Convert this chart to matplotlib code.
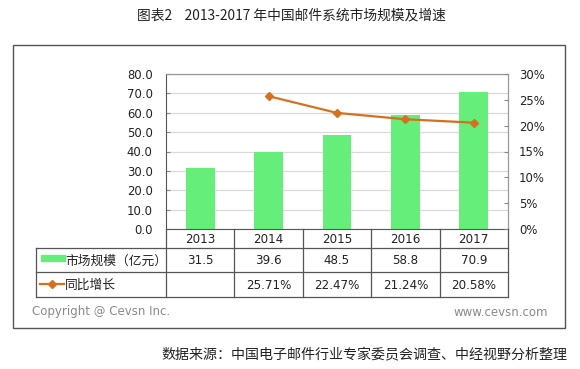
import matplotlib
matplotlib.use("Agg")
import matplotlib.pyplot as plt
from matplotlib.lines import Line2D
from matplotlib.patches import Rectangle
from matplotlib.ticker import FuncFormatter, MultipleLocator

plt.rcParams['font.family'] = ['DejaVu Sans', 'Noto Sans CJK SC']

years = ['2013', '2014', '2015', '2016', '2017']
market = [31.5, 39.6, 48.5, 58.8, 70.9]
growth = [None, 25.71, 22.47, 21.24, 20.58]
market_labels = ['31.5', '39.6', '48.5', '58.8', '70.9']
growth_labels = ['', '25.71%', '22.47%', '21.24%', '20.58%']
series_names = ['市场规模（亿元）', '同比增长']
title = '图表2    2013-2017 年中国邮件系统市场规模及增速'
source = '数据来源：中国电子邮件行业专家委员会调查、中经视野分析整理'

W, H = 580, 369
fig = plt.figure(figsize=(W / 100, H / 100), dpi=100)

def fx(x):
    return x / W

def fy(y):
    return 1 - y / H

BAR_C = '#66EE7A'
LINE_C = '#D4711F'
GRID_C = '#DADADA'
FRAME_C = '#555555'
TXT = '#222222'

pl, pr, pt, pb = 166, 508, 74, 229
ax = fig.add_axes([fx(pl), fy(pb), fx(pr - pl), (pb - pt) / H])
x = list(range(len(years)))
ax.bar(x, market, width=0.42, color=BAR_C, zorder=2)
ax.set_xlim(-0.5, len(years) - 0.5)
ax.set_ylim(0, 80)
ax.yaxis.set_major_locator(MultipleLocator(10))
ax.yaxis.set_major_formatter(FuncFormatter(lambda v, p: f'{v:.1f}'))
ax.grid(axis='y', color=GRID_C, lw=0.9, zorder=0)
ax.set_xticks([])
ax.tick_params(axis='y', length=3, direction='in', pad=9.5, labelsize=8.4, colors='#888888', labelcolor=TXT)
for s in ['top', 'right']:
    ax.spines[s].set_color('#999999')
    ax.spines[s].set_linewidth(0.9)
ax.spines['left'].set_color(FRAME_C)
ax.spines['bottom'].set_color(FRAME_C)

ax2 = ax.twinx()
gx = [i for i, g in zip(x, growth) if g is not None]
gv = [g for g in growth if g is not None]
ax2.plot(gx, gv, color=LINE_C, lw=1.6, marker='D', ms=4.5, mfc=LINE_C, mec=LINE_C, zorder=3)
ax2.set_ylim(0, 30)
ax2.yaxis.set_major_locator(MultipleLocator(5))
ax2.yaxis.set_major_formatter(FuncFormatter(lambda v, p: f'{v:.0f}%'))
ax2.tick_params(axis='y', length=3, direction='in', pad=8, labelsize=8.4, colors='#888888', labelcolor=TXT)
for s in ax2.spines.values():
    s.set_visible(False)

# Table
def hline(y, x0, x1, c=FRAME_C, lw=0.9):
    fig.add_artist(Line2D([fx(x0), fx(x1)], [fy(y), fy(y)], color=c, lw=lw))

def vline(x_, y0, y1, c=FRAME_C, lw=0.9):
    fig.add_artist(Line2D([fx(x_), fx(x_)], [fy(y0), fy(y1)], color=c, lw=lw))

tl = 36
r0, r1, r2, r3 = 229, 248, 272, 297
cw = (pr - pl) / len(years)
hline(r1, tl, pr)
hline(r2, tl, pr)
hline(r3, tl, pr)
vline(tl, r1, r3)
for k in range(len(years) + 1):
    vline(pl + k * cw, r0, r3)
for k, yr in enumerate(years):
    cx = pl + (k + 0.5) * cw
    fig.text(fx(cx), fy((r0 + r1) / 2 + 1), yr, ha='center', va='center', fontsize=8.6, color=TXT)
    fig.text(fx(cx), fy((r1 + r2) / 2 + 1), market_labels[k], ha='center', va='center', fontsize=8.6, color=TXT)
    fig.text(fx(cx), fy((r2 + r3) / 2 + 1), growth_labels[k], ha='center', va='center', fontsize=8.6, color=TXT)

# legend keys
fig.add_artist(Rectangle((fx(41), fy(261)), fx(24), 6 / H, color=BAR_C))
fig.add_artist(Line2D([fx(40), fx(64)], [fy(284), fy(284)], color=LINE_C, lw=1.6))
fig.add_artist(Line2D([fx(52)], [fy(284)], color=LINE_C, marker='D', ms=4, lw=0))
fig.text(fx(65), fy((r1 + r2) / 2 + 1), series_names[0], ha='left', va='center', fontsize=9.2,
         color=TXT, family=['Noto Sans CJK SC'])
fig.text(fx(65), fy((r2 + r3) / 2 + 1), series_names[1], ha='left', va='center', fontsize=9.2,
         color=TXT, family=['Noto Sans CJK SC'])

# outer frame
fig.add_artist(Rectangle((fx(13), fy(328)), fx(565 - 13), (328 - 45) / H, fill=False,
                         ec=FRAME_C, lw=1.0))

fig.text(fx(32), fy(312), 'Copyright @ Cevsn Inc.', ha='left', va='center', fontsize=8.5, color='#8a8a8a')
fig.text(fx(548), fy(312), 'www.cevsn.com', ha='right', va='center', fontsize=8.5, color='#8a8a8a')

fig.text(fx(291), fy(15), title, ha='center', va='center', fontsize=9.9, color=TXT,
         family=['Noto Sans CJK SC', 'DejaVu Sans'])
fig.text(fx(567), fy(354), source, ha='right', va='center', fontsize=10.1, color=TXT,
         family=['Noto Sans CJK SC', 'DejaVu Sans'], fontweight='medium')

fig.savefig('out.png', dpi=100)
